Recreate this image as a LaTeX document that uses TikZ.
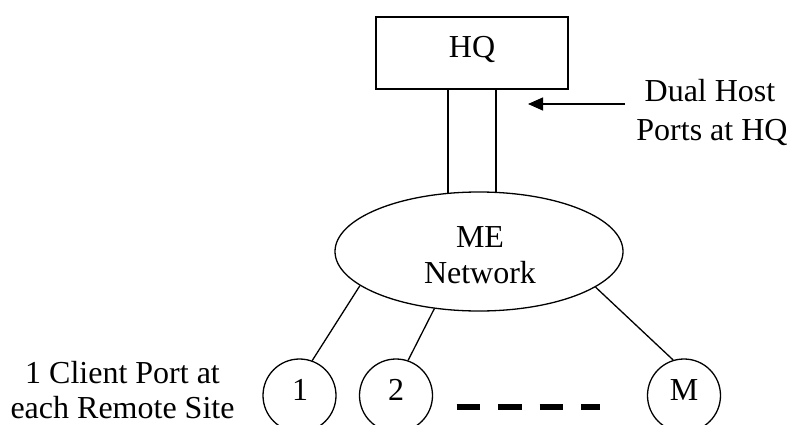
\documentclass[tikz,border=0pt]{standalone}
\usepackage{fontspec}
\setmainfont{Liberation Serif}
\usetikzlibrary{shapes.geometric,arrows.meta}
\tikzset{
  ln/.style={line width=1.3pt},
  txt/.style={anchor=base,inner sep=0pt,font=\fontsize{32}{36}\selectfont},
  site/.style={circle,draw,ln,minimum size=73pt,inner sep=0pt},
}
\begin{document}
\begin{tikzpicture}[x=1pt,y=-1pt]
\useasboundingbox (0,0) rectangle (789,425);
% HQ box
\node[draw,ln,minimum width=192pt,minimum height=72pt,inner sep=0pt] (hq) at (472,53) {};
\node[txt] (hqt) at (472,58) {HQ};
% ME network
\node[ellipse,draw,ln,minimum width=288pt,minimum height=119pt,inner sep=0pt] (me) at (479,251.5) {};
\node[txt] (met1) at (480,247) {ME};
\node[txt] (met2) at (480,283) {Network};
% dual host ports
\coordinate (p1a) at (448,89);
\coordinate (p2a) at (496,89);
\coordinate (p1b) at (448,193.5);
\coordinate (p2b) at (496,192.5);
\draw[ln] (p1a) -- (p1b);
\draw[ln] (p2a) -- (p2b);
% arrow
\coordinate (arrs) at (625,104);
\coordinate (arre) at (528,104);
\draw[ln,-{Triangle[length=15pt,width=13pt]}] (arrs) -- (arre);
\node[txt] (dh1) at (710,102) {Dual Host};
\node[txt] (dh2) at (712,140) {Ports at HQ};
% sites
\node[site] (c1) at (299.5,395.5) {};
\node[site] (c2) at (396,395.5) {};
\node[site] (cm) at (684,395.5) {};
\node[txt] (c1t) at (300,400) {1};
\node[txt] (c2t) at (396,400) {2};
\node[txt] (cmt) at (684,400) {M};
\draw[ln] (me.196.6) -- (c1.70.6);
\draw[ln] (me.232.3) -- (c2.71.3);
\draw[ln] (me.343.6) -- (cm.107.2);
% dashes
\coordinate (ds) at (456.7,407);
\coordinate (de) at (600,407);
\draw[line width=6pt,dash pattern=on 23.5pt off 18pt] (ds) -- (de);
% left label
\node[txt] (cl1) at (122.5,383) {1 Client Port at};
\node[txt] (cl2) at (122.5,418) {each Remote Site};
\end{tikzpicture}
\end{document}
